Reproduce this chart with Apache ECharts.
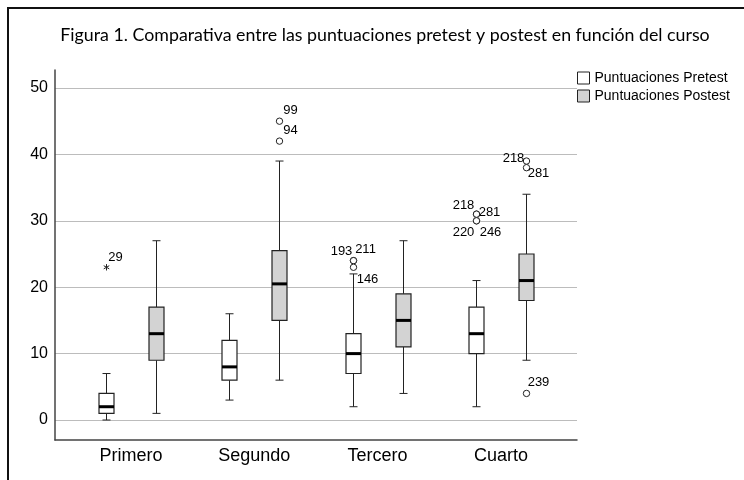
<!DOCTYPE html>
<html><head><meta charset="utf-8">
<script src="https://cdn.jsdelivr.net/npm/echarts@6/dist/echarts.min.js"></script>
<style>html,body{margin:0;padding:0;background:#fff}#c{width:744px;height:480px}</style>
</head><body><div id="c"></div>
<script>
const titleText = 'Figura 1. Comparativa entre las puntuaciones pretest y postest en función del curso';
const categories = ['Primero', 'Segundo', 'Tercero', 'Cuarto'];
const seriesNames = ['Puntuaciones Pretest', 'Puntuaciones Postest'];
// [min, Q1, median, Q3, max]
const pretestBox = [[0, 1, 2, 4, 7], [3, 6, 8, 12, 16], [2, 7, 10, 13, 22], [2, 10, 13, 17, 21]];
const postestBox = [[1, 9, 13, 17, 27], [6, 15, 20.5, 25.5, 39], [4, 11, 15, 19, 27], [9, 18, 21, 25, 34]];
// [category index, value]
const pretestOutliers = [[0, 23], [2, 24], [2, 24], [2, 23], [3, 31], [3, 31], [3, 30], [3, 30]];
const pretestOutlierIds = ['29', '193', '211', '146', '218', '281', '220', '246'];
const pretestOutlierExtreme = [true, false, false, false, false, false, false, false];
const postestOutliers = [[1, 45], [1, 42], [3, 39], [3, 38], [3, 4]];
const postestOutlierIds = ['99', '94', '218', '281', '239'];
const postestOutlierExtreme = [false, false, false, false, false];
const yTicks = [0, 10, 20, 30, 40, 50];

// label placement (style only)
const preLabelOffsets = [[9, -10], [-12, -9], [12, -11], [14, 12], [-13, -9], [13, -2], [-13, 11.5], [14, 11.5]];
const postLabelOffsets = [[11, -11], [11, -11], [-13, -2.5], [12, 6], [12, -11.5]];

const LINE = '#222';
const FONT = '"Liberation Sans", Arial, sans-serif';

function boxRenderer(dx, fill) {
  return function (params, api) {
    const cat = api.value(0);
    const vals = [api.value(1), api.value(2), api.value(3), api.value(4), api.value(5)];
    const x = Math.round(api.coord([cat, vals[0]])[0] + dx) + 0.5;
    const y = vals.map(v => api.coord([cat, v])[1]);
    const hw = 7.5, cw = 4;
    const ls = { stroke: LINE, lineWidth: 1 };
    return {
      type: 'group',
      children: [
        { type: 'line', shape: { x1: x, y1: y[0], x2: x, y2: y[1] }, style: ls },
        { type: 'line', shape: { x1: x, y1: y[3], x2: x, y2: y[4] }, style: ls },
        { type: 'line', shape: { x1: x - cw, y1: y[0], x2: x + cw, y2: y[0] }, style: ls },
        { type: 'line', shape: { x1: x - cw, y1: y[4], x2: x + cw, y2: y[4] }, style: ls },
        { type: 'rect', shape: { x: x - hw, y: y[3], width: 2 * hw, height: y[1] - y[3] }, style: { fill: fill, stroke: LINE, lineWidth: 1.2 } },
        { type: 'line', shape: { x1: x - hw, y1: y[2], x2: x + hw, y2: y[2] }, style: { stroke: '#000', lineWidth: 3 } }
      ]
    };
  };
}

function outlierRenderer(ids, extreme, offsets, dx) {
  return function (params, api) {
    const i = params.dataIndex;
    const p = api.coord([api.value(0), api.value(1)]);
    const x = Math.round(p[0] + dx) + 0.5, y = p[1];
    const children = [];
    if (extreme[i]) {
      const r = 3.2;
      for (let k = 0; k < 3; k++) {
        const a = Math.PI / 2 + k * Math.PI / 3;
        children.push({ type: 'line', shape: { x1: x - r * Math.cos(a), y1: y - r * Math.sin(a), x2: x + r * Math.cos(a), y2: y + r * Math.sin(a) }, style: { stroke: LINE, lineWidth: 1 } });
      }
    } else {
      children.push({ type: 'circle', shape: { cx: x, cy: y, r: 3.2 }, style: { fill: '#fff', stroke: LINE, lineWidth: 1 } });
    }
    children.push({
      type: 'text', x: x + offsets[i][0], y: y + offsets[i][1],
      style: { text: ids[i], fill: '#000', font: '13px ' + FONT, align: 'center', verticalAlign: 'middle' }
    });
    return { type: 'group', children: children };
  };
}

const chart = echarts.init(document.getElementById('c'), null, { renderer: 'canvas' });
chart.setOption({
  animation: false,
  backgroundColor: '#fff',
  graphic: [{
    type: 'rect', shape: { x: 8, y: 8, width: 900, height: 600 },
    style: { fill: 'none', stroke: '#111', lineWidth: 2 }, silent: true
  }],
  title: {
    text: titleText, left: 380, top: 21, textAlign: 'center',
    textStyle: { fontFamily: 'Lato', fontSize: 17.8, fontWeight: 'normal', color: '#000' }
  },
  legend: {
    orient: 'vertical', left: 577, top: 71, padding: 0,
    itemWidth: 12, itemHeight: 12, itemGap: 4, icon: 'rect',
    textStyle: { fontSize: 14, color: '#000', fontFamily: FONT },
    data: [
      { name: seriesNames[0], itemStyle: { color: '#fff', borderColor: LINE, borderWidth: 1 } },
      { name: seriesNames[1], itemStyle: { color: '#d3d3d3', borderColor: LINE, borderWidth: 1 } }
    ]
  },
  grid: [
    { left: 55, top: 70, width: 522, height: 370 },
    { left: 55, top: 88, width: 522, height: 332 },
    { left: 69.3, top: 88, width: 493.3, height: 332 }
  ],
  xAxis: [
    { gridIndex: 0, type: 'value', min: 0, max: 1, axisLine: { show: true, onZero: false, lineStyle: { color: '#444', width: 1.5 } }, axisTick: { show: false }, axisLabel: { show: false }, splitLine: { show: false } },
    { gridIndex: 1, type: 'value', min: -0.6162, max: 3.6162, show: false },
    { gridIndex: 2, type: 'category', data: categories, axisLine: { show: false }, axisTick: { show: false },
      axisLabel: { fontSize: 18, color: '#000', margin: 27, fontFamily: FONT } }
  ],
  yAxis: [
    { gridIndex: 0, type: 'value', min: 0, max: 1, axisLine: { show: true, onZero: false, lineStyle: { color: '#444', width: 1.5 } }, axisTick: { show: false }, axisLabel: { show: false }, splitLine: { show: false } },
    { gridIndex: 1, type: 'value', min: yTicks[0], max: yTicks[yTicks.length - 1], interval: yTicks[1] - yTicks[0],
      axisLine: { show: false }, axisTick: { show: false },
      axisLabel: { fontSize: 16, color: '#000', margin: 7, fontFamily: FONT },
      splitLine: { show: true, lineStyle: { color: '#bcbcbc', width: 1 } } },
    { gridIndex: 2, type: 'value', min: yTicks[0], max: yTicks[yTicks.length - 1], show: false }
  ],
  series: [
    { name: seriesNames[0], type: 'custom', xAxisIndex: 1, yAxisIndex: 1,
      itemStyle: { color: '#fff', borderColor: LINE },
      data: pretestBox.map((b, i) => [i].concat(b)), encode: { x: 0, y: [1, 2, 3, 4, 5] },
      renderItem: boxRenderer(-25, '#fff') },
    { name: seriesNames[1], type: 'custom', xAxisIndex: 1, yAxisIndex: 1,
      itemStyle: { color: '#d3d3d3', borderColor: LINE },
      data: postestBox.map((b, i) => [i].concat(b)), encode: { x: 0, y: [1, 2, 3, 4, 5] },
      renderItem: boxRenderer(25, '#d3d3d3') },
    { name: seriesNames[0] + ' atípicos', type: 'custom', xAxisIndex: 1, yAxisIndex: 1,
      data: pretestOutliers, encode: { x: 0, y: 1 },
      renderItem: outlierRenderer(pretestOutlierIds, pretestOutlierExtreme, preLabelOffsets, -25) },
    { name: seriesNames[1] + ' atípicos', type: 'custom', xAxisIndex: 1, yAxisIndex: 1,
      data: postestOutliers, encode: { x: 0, y: 1 },
      renderItem: outlierRenderer(postestOutlierIds, postestOutlierExtreme, postLabelOffsets, 25) }
  ]
});
</script>
</body></html>
